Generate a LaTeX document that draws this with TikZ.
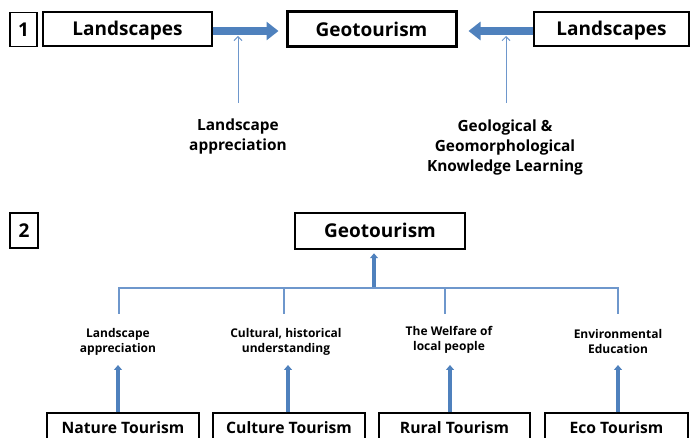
\documentclass[tikz,border=0pt]{standalone}
\usepackage{fontspec}
\setmainfont{Open Sans}
\usetikzlibrary{arrows.meta}
\definecolor{ablue}{HTML}{4F81BD}
\definecolor{lblue}{HTML}{6E97CC}
\tikzset{
 box/.style={draw=black, line width=1.2pt, rectangle, inner sep=0pt, text height=13.5pt, text depth=0pt, font=\bfseries\fontsize{19}{23}\selectfont},
 mainbox/.style={box, line width=3pt},
 smallbox/.style={box, text height=11.2pt, font=\bfseries\fontsize{15.7}{19}\selectfont},
 biglabel/.style={align=center, font=\bfseries\fontsize{15.4}{20}\selectfont, inner sep=0pt},
 smalllabel/.style={align=center, font=\bfseries\fontsize{12}{15}\selectfont, inner sep=0pt},
 fatarrow/.style={draw=ablue, line width=8pt, -{Triangle[width=18pt,length=12pt]}},
 thinarrow/.style={draw=lblue, line width=1pt, -{Straight Barb[width=8pt,length=4pt]}},
 upthick/.style={draw=ablue, line width=4pt, -{Triangle[width=8pt,length=5pt]}},
 treeline/.style={draw=lblue, line width=1.2pt},
}
\begin{document}
\begin{tikzpicture}[x=1pt,y=1pt]
\useasboundingbox (0,0) rectangle (691,-438);
% ---------- part 1 ----------
\node[box, minimum width=27pt, minimum height=34pt] (one) at (23.5,-29.5) {1};
\node[box, minimum width=169pt, minimum height=34pt] (L1) at (127.5,-29) {Landscapes};
\node[mainbox, minimum width=169pt, minimum height=35pt] (G1) at (371.5,-29.5) {Geotourism};
\node[box, minimum width=155pt, minimum height=34pt] (L2) at (611.5,-29) {Landscapes};
\draw[fatarrow, shorten >=7pt] ([yshift=-2pt]L1.east) -- ([yshift=-2pt]L1.east -| G1.west);
\draw[fatarrow, shorten >=11pt] ([yshift=-2pt]L2.west) -- ([yshift=-2pt]L2.west -| G1.east);
\node[biglabel] (la) at (238,-137) {Landscape\\appreciation};
\node[biglabel] (lb) at (505,-147.5) {Geological \&\\Geomorphological\\Knowledge Learning};
\coordinate (ta0) at (238,-103);
\coordinate (ta1) at (238,-36);
\coordinate (tb0) at (506,-103);
\coordinate (tb1) at (506,-36);
\draw[thinarrow] (ta0) -- (ta1);
\draw[thinarrow] (tb0) -- (tb1);
% ---------- part 2 ----------
\node[box, minimum width=28pt, minimum height=35pt] (two) at (24,-230.5) {2};
\node[mainbox, line width=2.5pt, minimum width=170pt, minimum height=36pt] (G2) at (380,-231) {Geotourism};
\coordinate (hub) at (374,-288);
\draw[upthick, shorten >=3pt] (hub) -- (hub |- G2.south);
\coordinate (d1) at (119,-288);
\coordinate (d2) at (284,-288);
\coordinate (d3) at (445,-288);
\coordinate (d4) at (618,-288);
\draw[treeline] ([yshift=-26pt]d1) -- (d1) -- (d4) -- ([yshift=-26pt]d4);
\draw[treeline] (d2) -- ++(0,-26);
\draw[treeline] (d3) -- ++(0,-26);
\node[smalllabel] (s1) at (118,-341.5) {Landscape\\appreciation};
\node[smalllabel] (s2) at (286,-341.5) {Cultural, historical\\understanding};
\node[smalllabel] (s3) at (449,-340) {The Welfare of\\local people};
\node[smalllabel] (s4) at (618,-341.5) {Environmental\\Education};
\node[smallbox, minimum width=152pt, minimum height=30pt] (B1) at (123,-428) {Nature Tourism};
\node[smallbox, minimum width=152pt, minimum height=30pt] (B2) at (289,-428) {Culture Tourism};
\node[smallbox, minimum width=151pt, minimum height=30pt] (B3) at (454.5,-428) {Rural Tourism};
\node[smallbox, minimum width=143pt, minimum height=30pt] (B4) at (616.5,-428) {Eco Tourism};
\coordinate (a1) at (118,-365);
\coordinate (a2) at (288,-365);
\coordinate (a3) at (450,-365);
\coordinate (a4) at (618,-365);
\draw[upthick] (a1 |- B1.north) -- (a1);
\draw[upthick] (a2 |- B2.north) -- (a2);
\draw[upthick] (a3 |- B3.north) -- (a3);
\draw[upthick] (a4 |- B4.north) -- (a4);
\end{tikzpicture}
\end{document}
